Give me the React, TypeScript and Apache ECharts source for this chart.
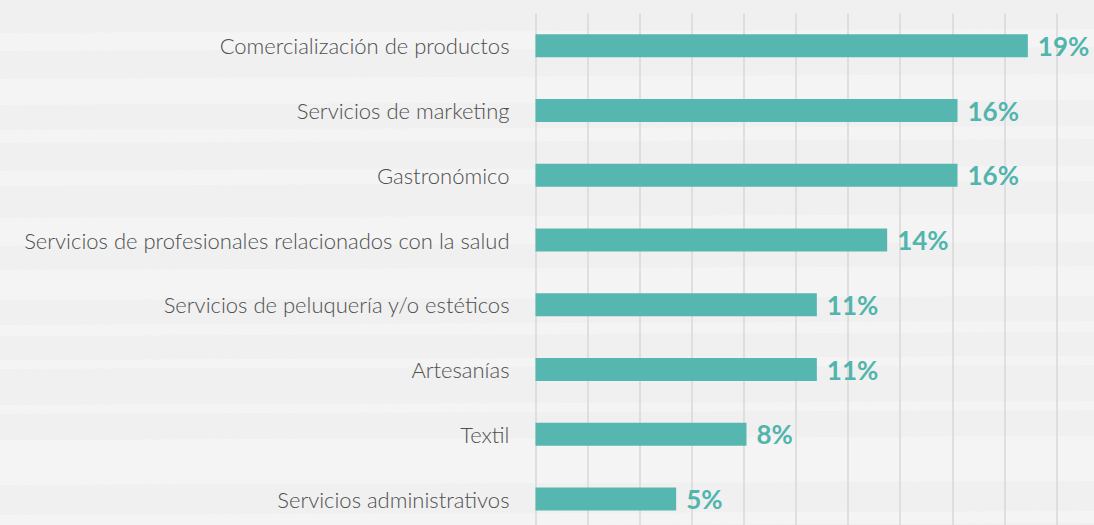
import React, { useEffect, useRef } from "react";
import * as echarts from "echarts";

const categories = [
  "Comercialización de productos",
  "Servicios de marketing",
  "Gastronómico",
  "Servicios de profesionales relacionados con la salud",
  "Servicios de peluquería y/o estéticos",
  "Artesanías",
  "Textil",
  "Servicios administrativos",
];
const values = [18.9, 16.2, 16.2, 13.5, 10.8, 10.8, 8.1, 5.4];
const axisMin = 0;
const axisMax = 20;
const axisInterval = 2;

// decorative background stripes: [yLeft, yRight, thickness]
const stripes: [number, number, number][] = [
  [33, 29, 18],
  [79, 74, 26],
  [130, 126, 13],
  [171, 166, 15],
  [218, 214, 28],
  [270, 266, 30],
  [325, 321, 11],
  [360, 356, 9],
  [405, 401, 9],
  [440, 436, 45],
  [515, 511, 12],
];

export default function App() {
  const ref = useRef<HTMLDivElement>(null);
  useEffect(() => {
    if (!ref.current) return;
    const chart = echarts.init(ref.current, null, { renderer: "svg" });
    const W = 1094;
    chart.setOption({
      animation: false,
      backgroundColor: "#f0f0f0",
      graphic: stripes.map(([yl, yr, t]) => ({
        type: "polygon",
        z: -100,
        silent: true,
        shape: {
          points: [
            [0, yl],
            [W, yr],
            [W, yr + t],
            [0, yl + t],
          ],
        },
        style: { fill: "#f4f4f4" },
      })),
      grid: { left: 535.5, top: 13.4, width: 521, height: 518 },
      xAxis: {
        type: "value",
        min: axisMin,
        max: axisMax,
        interval: axisInterval,
        axisLabel: { show: false },
        axisLine: { show: false },
        axisTick: { show: false },
        splitLine: { show: true, lineStyle: { color: "#d8d8d8", width: 1.5 } },
      },
      yAxis: {
        type: "category",
        inverse: true,
        data: categories,
        axisLine: { show: false },
        axisTick: { show: false },
        axisLabel: {
          margin: 26,
          color: "#4f4f4f",
          fontFamily: "Lato",
          fontWeight: 300,
          fontSize: 22,
        },
      },
      series: [
        {
          type: "bar",
          data: values,
          barWidth: 23,
          itemStyle: { color: "#55b7b0" },
          label: {
            show: true,
            position: "right",
            distance: 10,
            formatter: (p: any) => Math.round(p.value) + "%",
            color: "#52b5ad",
            fontFamily: "Lato",
            fontWeight: "bold",
            fontSize: 26,
          },
        },
      ],
    });
    return () => chart.dispose();
  }, []);
  return (
    <div
      ref={ref}
      style={{ position: "fixed", left: 0, top: 0, width: 1094, height: 532 }}
    />
  );
}
